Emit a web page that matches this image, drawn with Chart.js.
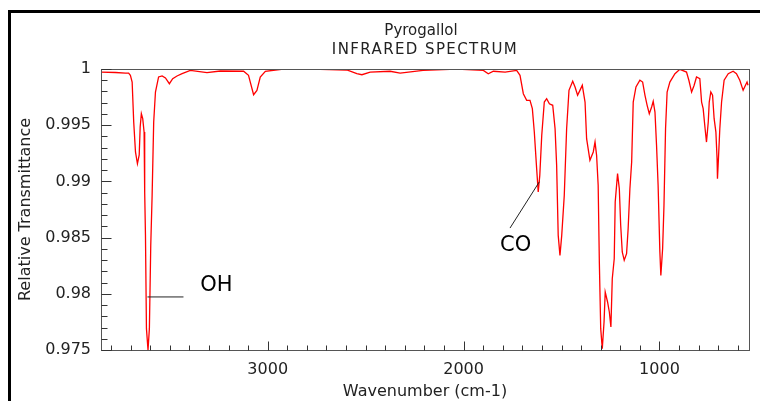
<!DOCTYPE html>
<html>
<head>
<meta charset="utf-8">
<title>Pyrogallol - Infrared Spectrum</title>
<script src="https://cdn.jsdelivr.net/npm/chart.js@4.4.1/dist/chart.umd.min.js"></script>
<style>
  html, body { margin: 0; padding: 0; background: #fff; }
</style>
</head>
<body>
<canvas id="irChart" width="760" height="401"></canvas>
<script>
'use strict';

// spectrum (wavenumber in cm-1, relative transmittance)
var wavenumbers = [
  3850, 3777, 3726, 3710, 3701, 3692, 3684, 3675, 3665, 3656,
  3651, 3645, 3638, 3631, 3628, 3624, 3619, 3611, 3604, 3597,
  3590, 3582, 3573, 3557, 3539, 3522, 3502, 3485, 3463, 3437,
  3395, 3310, 3242, 3123, 3098, 3072, 3055, 3038, 3012, 2919,
  2834, 2732, 2596, 2545, 2519, 2477, 2375, 2324, 2207, 2035,
  1899, 1874, 1848, 1788, 1729, 1712, 1695, 1678, 1661, 1649,
  1639, 1627, 1619, 1611, 1601, 1588, 1576, 1562, 1545, 1533,
  1525, 1517, 1508, 1499, 1486, 1474, 1462, 1443, 1431, 1418,
  1406, 1394, 1380, 1372, 1355, 1338, 1329, 1321, 1313, 1307,
  1300, 1292, 1283, 1277, 1265, 1256, 1248, 1241, 1231, 1226,
  1214, 1205, 1198, 1190, 1180, 1168, 1160, 1151, 1142, 1134,
  1120, 1100, 1086, 1074, 1063, 1052, 1040, 1032, 1023, 1015,
  1007, 998, 993, 984, 977, 969, 961, 947, 921, 896,
  862, 850, 836, 823, 811, 794, 785, 777, 768, 760,
  751, 746, 738, 729, 721, 712, 706, 704, 699, 692,
  683, 670, 649, 624, 607, 590, 573, 561, 553, 548
];
var transmittance = [
  0.99973, 0.99969, 0.99964, 0.99964, 0.99944, 0.99884, 0.99528, 0.99262, 0.99157, 0.99235,
  0.99484, 0.99602, 0.99558, 0.99439, 0.98906, 0.9852, 0.9769, 0.975, 0.9769, 0.98431,
  0.98876, 0.99528, 0.99795, 0.99929, 0.99938, 0.9992, 0.99869, 0.99914, 0.99938, 0.99958,
  0.99988, 0.99967, 0.99982, 0.9998, 0.99944, 0.99771, 0.9981, 0.99929, 0.9998, 1.0,
  0.99996, 0.99996, 0.99991, 0.99958, 0.99949, 0.99973, 0.9998, 0.99964, 0.99988, 1.0,
  0.99988, 0.99958, 0.9998, 0.99973, 0.99988, 0.99944, 0.9978, 0.99721, 0.99721, 0.99647,
  0.99439, 0.99113, 0.98906, 0.99054, 0.9941, 0.99706, 0.99736, 0.99691, 0.99677, 0.99469,
  0.99143, 0.9852, 0.98342, 0.9852, 0.98876, 0.99469, 0.9981, 0.99891, 0.9984, 0.99766,
  0.9981, 0.99855, 0.99706, 0.9938, 0.99188, 0.99262, 0.9935, 0.99232, 0.98965, 0.98283,
  0.9769, 0.97512, 0.97749, 0.98016, 0.97927, 0.97838, 0.97705, 0.98134, 0.98312, 0.98817,
  0.99069, 0.98935, 0.98609, 0.98372, 0.98298, 0.98357, 0.98579, 0.98935, 0.99173, 0.99706,
  0.9984, 0.999, 0.99884, 0.99766, 0.99677, 0.99602, 0.99662, 0.99713, 0.99617, 0.99321,
  0.98965, 0.98372, 0.98164, 0.98401, 0.98787, 0.99469, 0.99795, 0.99884, 0.99958, 0.99997,
  0.99973, 0.999, 0.99795, 0.99855, 0.99929, 0.99914, 0.99706, 0.99647, 0.99484, 0.9935,
  0.99528, 0.99706, 0.99795, 0.99766, 0.99558, 0.99439, 0.99202, 0.99024, 0.99202, 0.99469,
  0.99706, 0.999, 0.99958, 0.9998, 0.99958, 0.999, 0.9981, 0.99855, 0.99884, 0.99855
];

var xTickValues = [3000, 2000, 1000];
var yTickValues = [0.975, 0.98, 0.985, 0.99, 0.995, 1];
var titleLines = ['Pyrogallol', 'INFRARED SPECTRUM'];

// peak labels, anchored in data coordinates
var peakLabels = [
  { text: 'OH', at: [3344, 0.98025], from: [3614, 0.97972], to: [3430, 0.97972] },
  { text: 'CO', at: [1814, 0.98381], from: [1613, 0.98997], to: [1763, 0.98585] }
];

var FONT = '"DejaVu Sans", Verdana, sans-serif';

var points = wavenumbers.map(function (w, i) {
  return { x: w, y: transmittance[i] };
});

// ------------------------------------------------------- //
// frame, title, minor ticks and peak labels
// ------------------------------------------------------- //
var decoPlugin = {
  id: 'deco',
  beforeDraw: function (chart) {
    var ctx = chart.ctx;
    var area = chart.chartArea;
    ctx.save();
    ctx.fillStyle = '#fff';
    ctx.fillRect(0, 0, chart.width, chart.height);
    // outer black frame (top and left only are visible)
    ctx.fillStyle = '#000';
    ctx.fillRect(8, 10, chart.width - 8, 3);
    ctx.fillRect(8, 10, 3, chart.height - 10);

    var cx = (area.left + area.right) / 2;
    ctx.fillStyle = '#222';
    ctx.textAlign = 'center';
    ctx.textBaseline = 'alphabetic';
    ctx.font = '15px ' + FONT;
    ctx.fillText(titleLines[0], cx - 4, 35);
    ctx.letterSpacing = '1.4px';
    ctx.fillText(titleLines[1], cx, 54);
    ctx.restore();
  },
  afterDraw: function (chart) {
    var ctx = chart.ctx;
    var area = chart.chartArea;
    var xs = chart.scales.x;
    var ys = chart.scales.y;
    var L = Math.round(area.left) + 0.5;
    var R = Math.round(area.right) + 0.5;
    var T = Math.round(area.top) + 0.5;
    var B = Math.round(area.bottom) + 0.5;

    ctx.save();
    ctx.lineWidth = 1;
    ctx.strokeStyle = '#555';
    ctx.strokeRect(L, T, R - L, B - T);

    // ticks point into the plot
    ctx.strokeStyle = '#333';
    ctx.beginPath();
    for (var w = 600; w <= 3800; w += 100) {
      var px = Math.round(xs.getPixelForValue(w)) + 0.5;
      var len = (w % 1000 === 0) ? 9 : 5;
      ctx.moveTo(px, B);
      ctx.lineTo(px, B - len);
    }
    for (var i = 0; i <= 25; i++) {
      var py = Math.round(ys.getPixelForValue(0.975 + i * 0.001)) + 0.5;
      var tl = (i % 5 === 0) ? 10 : 6;
      ctx.moveTo(L, py);
      ctx.lineTo(L + tl, py);
    }
    ctx.stroke();

    // peak labels
    ctx.strokeStyle = '#222';
    ctx.fillStyle = '#000';
    ctx.font = '21px ' + FONT;
    ctx.textAlign = 'left';
    ctx.textBaseline = 'alphabetic';
    peakLabels.forEach(function (p) {
      ctx.beginPath();
      ctx.moveTo(xs.getPixelForValue(p.from[0]), ys.getPixelForValue(p.from[1]));
      ctx.lineTo(xs.getPixelForValue(p.to[0]), ys.getPixelForValue(p.to[1]));
      ctx.stroke();
      ctx.fillText(p.text, xs.getPixelForValue(p.at[0]), ys.getPixelForValue(p.at[1]));
    });
    ctx.restore();
  }
};

// ------------------------------------------------------- //
// Chart
// ------------------------------------------------------- //
var irChart = new Chart(document.getElementById('irChart').getContext('2d'), {
  type: 'scatter',
  data: {
    datasets: [{
      label: titleLines[0],
      data: points,
      showLine: true,
      borderColor: '#ff0000',
      borderWidth: 1.3,
      pointRadius: 0,
      tension: 0,
      fill: false
    }]
  },
  options: {
    responsive: false,
    animation: false,
    events: [],
    layout: { padding: { left: 0, right: 11, top: 69, bottom: 0 } },
    plugins: {
      legend: { display: false },
      tooltip: { enabled: false },
      title: { display: false }
    },
    scales: {
      x: {
        type: 'linear',
        reverse: true,
        min: 543,
        max: 3851,
        afterBuildTicks: function (scale) {
          scale.ticks = xTickValues.map(function (v) { return { value: v }; });
        },
        afterFit: function (scale) { scale.height = 51; },
        grid: { display: false, drawTicks: false },
        border: { display: false },
        ticks: {
          autoSkip: false,
          maxRotation: 0,
          padding: 10,
          color: '#222',
          font: { family: FONT, size: 16 },
          callback: function (v) { return String(v); }
        },
        title: {
          display: true,
          text: 'Wavenumber (cm-1)',
          color: '#222',
          font: { family: FONT, size: 16 },
          padding: { top: 0, bottom: 0 }
        }
      },
      y: {
        type: 'linear',
        min: 0.975,
        max: 1,
        afterBuildTicks: function (scale) {
          scale.ticks = yTickValues.map(function (v) { return { value: v }; });
        },
        afterFit: function (scale) { scale.width = 101; },
        grid: { display: false, drawTicks: false },
        border: { display: false },
        ticks: {
          padding: 10,
          color: '#222',
          font: { family: FONT, size: 16 },
          callback: function (v) { return String(v); }
        },
        title: {
          display: true,
          text: 'Relative Transmittance',
          color: '#222',
          font: { family: FONT, size: 16 },
          padding: { top: 16, bottom: 0 }
        }
      }
    }
  },
  plugins: [decoPlugin]
});
</script>
</body>
</html>
